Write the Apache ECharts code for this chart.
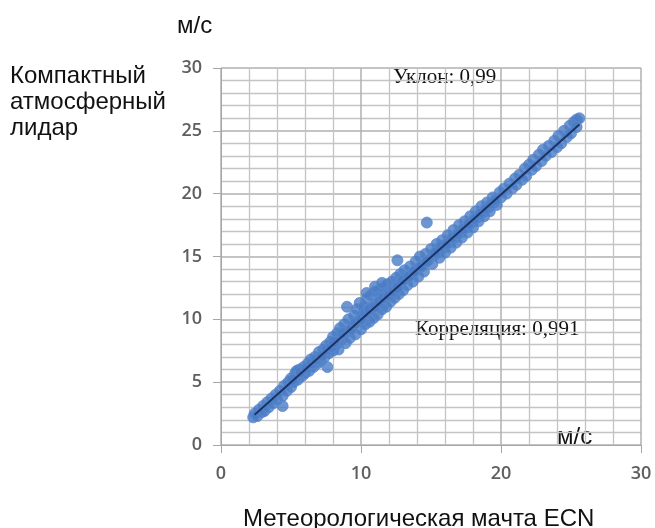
<!DOCTYPE html>
<html>
<head>
<meta charset="utf-8">
<script src="https://cdn.jsdelivr.net/npm/echarts@6/dist/echarts.min.js"></script>
<style>
  html, body { margin: 0; padding: 0; background: #fff; }
  #chart { width: 655px; height: 528px; }
</style>
</head>
<body>
<div id="chart"></div>
<script>
// Оси
var xTicks = [0, 10, 20, 30];
var yTicks = [0, 5, 10, 15, 20, 25, 30];

// Скорость ветра: [мачта ECN, лидар], м/с
var windPoints = [
  [2.3,2.2],[2.4,2.5],[2.6,2.3],[2.7,2.8],[2.9,2.6],[3.0,3.1],[3.1,2.7],[3.3,3.4],[3.4,3.0],
  [3.6,3.7],[3.7,3.3],[3.9,4.0],[4.0,3.6],[4.4,3.1],[4.2,4.3],[4.4,3.9],[4.5,4.7],[4.7,4.3],
  [4.8,5.0],[5.0,4.6],[5.0,5.3],
  [5.2,5.0],[5.3,5.7],[5.4,5.9],[5.5,5.2],[5.6,6.0],[5.8,5.5],[5.9,6.2],[6.0,5.7],[6.2,6.5],
  [6.3,5.9],[6.4,6.8],[6.6,6.2],[6.7,7.0],[6.9,6.5],[7.0,7.4],[7.1,6.7],[7.3,7.6],[7.4,7.0],
  [7.5,7.9],[7.6,6.2],[7.7,7.3],[7.8,8.2],[8.0,7.5],[8.0,8.6],
  [8.2,8.0],[8.3,8.9],[8.4,7.6],[8.5,9.3],[8.6,8.4],[8.8,9.6],[8.9,8.1],[9.0,11.0],[9.0,9.0],
  [9.1,10.0],[9.2,8.5],[9.4,9.5],[9.5,10.3],[9.6,8.8],[9.7,10.8],[9.8,9.9],[9.9,11.3],[10.0,9.2],
  [10.1,10.4],[10.2,11.0],[10.3,9.6],[10.4,11.6],[10.5,10.6],[10.6,9.8],[10.7,11.9],[10.8,11.0],
  [10.9,10.1],[11.0,12.2],[11.1,11.3],[11.2,10.4],[11.3,12.3],[11.4,11.6],[11.5,10.8],[11.6,12.5],
  [11.7,11.8],[11.8,11.0],[11.9,12.8],[12.0,12.1],[12.1,11.4],[12.2,13.0],[12.3,12.4],[12.4,11.7],
  [12.6,14.7],[12.5,13.3],[12.6,12.7],[12.7,12.0],[12.8,13.6],[12.9,13.0],[13.0,12.3],[13.1,13.9],
  [13.2,13.3],[13.3,12.7],[13.5,14.2],[13.6,13.6],[13.7,13.0],[13.9,14.6],[14.0,14.0],[14.1,13.4],
  [14.2,15.0],[14.4,14.3],[14.5,13.8],[14.7,17.7],[14.6,15.2],[14.8,14.7],[15.0,15.6],[15.1,14.4],
  [15.2,15.1],[15.4,16.0],[15.5,15.3],[15.6,14.9],[15.8,16.3],[15.9,15.7],[16.0,15.3],[16.2,16.7],
  [16.3,16.1],[16.4,15.7],[16.6,17.1],[16.7,16.5],[16.8,16.1],[17.0,17.5],[17.1,16.9],[17.2,16.5],
  [17.4,17.8],[17.5,17.3],[17.6,16.9],[17.8,18.2],[17.9,17.7],[18.0,17.3],[18.2,18.6],[18.3,18.1],
  [18.4,17.8],[18.6,19.0],[18.7,18.5],[18.8,18.2],[19.0,19.3],[19.1,18.9],[19.2,18.6],[19.4,19.7],
  [19.5,19.3],[19.7,19.1],[19.9,20.1],
  [20.0,19.7],[20.2,20.4],[20.4,20.0],[20.6,20.8],[20.8,20.4],[21.0,21.2],[21.1,20.7],[21.3,21.5],
  [21.5,21.1],[21.7,22.0],[21.8,21.4],[22.0,22.3],[22.2,21.9],[22.3,22.7],[22.5,22.2],[22.7,23.1],
  [22.9,22.6],[23.0,23.5],[23.2,23.0],[23.4,23.8],[23.6,23.3],[23.8,24.2],[24.0,23.7],[24.1,24.6],
  [24.3,24.0],[24.5,25.0],[24.7,24.5],[24.9,25.4],[25.0,24.8],[25.2,25.7],[25.4,25.9],[25.6,26.0],
  [25.4,25.3],
  // плотная середина полосы
  [5.1,5.2],[5.7,5.8],[6.1,6.1],[6.5,6.5],[6.8,6.8],[7.2,7.1],[7.6,7.6],[7.9,7.8],[8.1,8.2],
  [8.7,8.9],[9.3,9.2],[9.6,9.7],[10.0,10.0],[10.3,10.5],[10.6,10.8],[11.0,11.0],[11.3,11.4],
  [11.6,11.7],[12.0,11.9],[12.3,12.2],[12.6,12.5],[13.0,13.1],[13.4,13.4],[13.8,13.8],[14.3,14.2],
  [14.7,14.6],[15.3,15.3],[15.7,15.8],[16.1,16.0],[16.5,16.5],[16.9,16.8],[17.3,17.2],[17.7,17.6],
  [18.1,18.0],[18.5,18.4],[18.9,18.8],[19.3,19.2],[19.6,19.5],
  [10.4,12.1],[11.0,12.6],[11.5,12.9]
];

// Линия тренда (уклон 0,99)
var trendLine = [[2.4, 2.4], [25.6, 25.5]];

var labelFont = '"Open Sans", "Liberation Sans", sans-serif';
var textFont = '"Liberation Sans", Arial, sans-serif';
var serifFont = '"Liberation Serif", "Times New Roman", serif';

var chart = echarts.init(document.getElementById('chart'));
var option = {
  backgroundColor: '#fff',
  animation: false,
  grid: { left: 221, right: 14, top: 68, bottom: 83 },
  xAxis: {
    type: 'value',
    min: xTicks[0],
    max: xTicks[xTicks.length - 1],
    interval: 10,
    axisLine: { show: true, lineStyle: { color: '#a6a6a6', width: 1 } },
    axisTick: { show: true, length: 8, lineStyle: { color: '#a6a6a6' } },
    axisLabel: { margin: 20, fontSize: 18, fontWeight: 600, color: '#5f5f5f', fontFamily: labelFont },
    splitLine: { show: true, lineStyle: { color: '#b0b0b0', width: 1.5 } },
    minorTick: { show: false, splitNumber: 5 },
    minorSplitLine: { show: true, lineStyle: { color: '#c4c4c4', width: 1.3 } }
  },
  yAxis: {
    type: 'value',
    min: yTicks[0],
    max: yTicks[yTicks.length - 1],
    interval: 5,
    axisLine: { show: true, lineStyle: { color: '#a6a6a6', width: 1 } },
    axisTick: { show: true, length: 8, lineStyle: { color: '#a6a6a6' } },
    axisLabel: { margin: 19, fontSize: 18, fontWeight: 600, color: '#5f5f5f', fontFamily: labelFont },
    splitLine: { show: true, lineStyle: { color: '#b0b0b0', width: 1.5 } },
    minorTick: { show: false, splitNumber: 5 },
    minorSplitLine: { show: true, lineStyle: { color: '#c4c4c4', width: 1.3 } }
  },
  series: [
    {
      type: 'scatter',
      data: windPoints,
      symbol: 'circle',
      symbolSize: 11,
      itemStyle: { color: '#4a7cc4', borderColor: '#5b8ad0', borderWidth: 1 }
    },
    {
      type: 'line',
      data: trendLine,
      symbol: 'none',
      lineStyle: { color: '#1c3263', width: 2 },
      z: 5
    }
  ],
  graphic: [
    { type: 'text', left: 177, top: 14,
      style: { text: 'м/с', font: '24px ' + textFont, fill: '#111' } },
    { type: 'text', left: 10, top: 63,
      style: { text: 'Компактный\nатмосферный\nлидар', font: '24px ' + textFont,
               lineHeight: 26, fill: '#111' } },
    { type: 'text', left: 393, top: 67,
      style: { text: 'Уклон: 0,99', font: '21px ' + serifFont, fill: '#111' } },
    { type: 'text', left: 415, top: 319,
      style: { text: 'Корреляция: 0,991', font: '21px ' + serifFont, fill: '#111' } },
    { type: 'text', left: 557, top: 425,
      style: { text: 'м/с', font: '24px ' + textFont, fill: '#111' } },
    { type: 'text', left: 243, top: 507,
      style: { text: 'Метеорологическая мачта ECN', font: '24px ' + textFont, fill: '#111' } }
  ]
};
chart.setOption(option);
</script>
</body>
</html>
